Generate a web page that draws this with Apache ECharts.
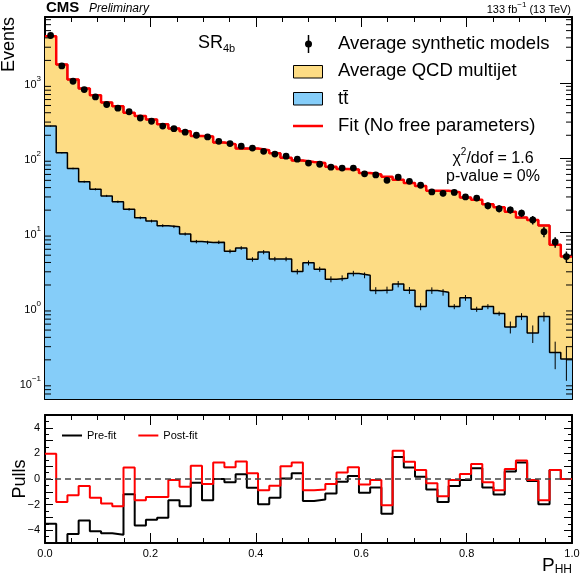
<!DOCTYPE html>
<html>
<head>
<meta charset="utf-8">
<script src="https://cdn.jsdelivr.net/npm/echarts@6/dist/echarts.min.js"></script>
<style>
html, body { margin: 0; padding: 0; background: #fff; }
#chart { width: 580px; height: 578px; }
</style>
</head>
<body>
<div id="chart"></div>
<script>
// 47 bins in P_HH from 0 to 1
var nBins = 47;

// stack top / fit prediction (events per bin)
var fitTotal = [4220, 1760, 1110, 841, 686, 548, 489, 400, 363, 325,
    281, 247, 227, 195, 193, 160, 152, 133, 133, 126,
    115, 100, 92, 88, 85, 76, 71, 70, 62.5, 60,
    56, 51, 46, 42, 36.3, 36.3, 34.7, 29.5, 27.5, 23.9,
    21.8, 19.1, 16.0, 14.8, 12.5, 6.9, 4.8];

var ttbar = [265, 117, 72, 48, 38, 31, 25.9, 20.5, 15.8, 14.3,
    12.4, 12.0, 9.6, 7.6, 7.4, 7.45, 5.65, 6.25, 4.4, 5.5,
    4.45, 4.45, 3.02, 3.95, 3.25, 2.39, 2.47, 2.85, 2.7, 1.69,
    1.72, 2.06, 1.7, 1.03, 1.69, 1.6, 1.03, 1.35, 0.95, 1.03,
    0.83, 0.55, 0.76, 0.456, 0.76, 0.25, 0.205];

var ttbarErr = [4, 2.5, 1.8, 1.4, 1.2, 1.0, 0.9, 0.8, 0.65, 0.6,
    0.55, 0.5, 0.45, 0.4, 0.4, 0.4, 0.35, 0.35, 0.3, 0.35,
    0.3, 0.3, 0.25, 0.3, 0.25, 0.22, 0.22, 0.24, 0.24, 0.18,
    0.18, 0.2, 0.18, 0.11, 0.17, 0.16, 0.08, 0.12, 0.075, 0.08,
    0.055, 0.10, 0.08, 0.12, 0.11, 0.10, 0.10];

var synthData = [4300, 1690, 1054, 815, 651, 515, 460, 412, 340, 308,
    265, 245, 220, 200, 190, 166, 155, 143, 135, 122,
    112, 105, 96, 85, 82, 75, 73, 73, 61, 59,
    50, 55, 48.5, 43, 35, 33.5, 34.5, 30, 29, 22.9,
    20.9, 20.1, 18.2, 14.8, 10.3, 7.5, 4.8];

var synthErr = [60, 30, 22, 17, 15, 13, 12, 11, 10, 9,
    8.5, 8, 7.5, 7, 7, 6.5, 6.3, 6, 5.8, 5.6,
    5.3, 5, 4.8, 4.6, 4.5, 4.3, 4.2, 4.2, 3.9, 3.8,
    3.6, 3.7, 3.4, 3.2, 3, 2.9, 2.9, 2.7, 2.6, 2.4,
    2.3, 2.2, 2.1, 1.9, 1.6, 1.2, 0.8];

var pullPre = [-3.5, -6, -4.3, -3.24, -4.08, -4.24, -4.35, -1.19, -3.64, -3.19,
    -3.03, -1.66, -2.13, -0.29, -1.66, 0, -0.26, 0.37, -0.68, -1.97,
    -1.47, 0.03, 0.45, -1.71, -1.6, -1.13, -0.21, 0.24, -1.08, -0.66,
    -2.71, 1.71, 0.89, 0.18, -0.82, -1.79, -0.55, -0.08, 0.84, -0.66,
    -1.21, 0.58, 1.29, -0.16, -1.97, 0.71, 0];

var pullPost = [1.97, -1.79, -1.26, -0.55, -1.47, -1.92, -2.13, 0.9, -1.66, -1.4,
    -1.4, -0.08, -0.6, 1.03, -0.4, 1.29, 0.92, 1.37, 0.45, -0.87,
    -0.53, 1.0, 1.29, -0.87, -0.82, -0.39, 0.5, 0.92, -0.42, -0.08,
    -2.05, 2.21, 1.34, 0.71, -0.34, -1.34, -0.08, 0.39, 1.18, -0.26,
    -0.87, 0.79, 1.45, -0.08, -1.66, 0.71, 0];

var xTickLabels = ['0.0', '0.2', '0.4', '0.6', '0.8', '1.0'];

// ROOT style minor ticks on the log axis: 2..9 x 10^n
var logMinorMults = [2, 3, 4, 5, 6, 7, 8, 9];
var logDecades = [-2, -1, 0, 1, 2, 3];

var FONT = '"Liberation Sans", Arial, sans-serif';
var YELLOW = '#fddc84';
var BLUE = '#85cdf9';
var Y_MIN = 0.06, Y_MAX = 7600;

// histogram as a step line: point at each left bin edge plus closing point at x=1
function stepData(vals) {
    var out = [];
    for (var i = 0; i < vals.length; i++) {
        out.push([i / nBins, vals[i]]);
    }
    out.push([1, vals[vals.length - 1]]);
    return out;
}

function powLabel(v) {
    var e = Math.log10(v), r = Math.round(e);
    if (Math.abs(e - r) > 1e-6) return '';
    return '{b|10}{s|' + (r < 0 ? '\u2212' + (-r) : r) + '}';
}

function errBars(vals, errs, withDot) {
    var d = [];
    for (var i = 0; i < vals.length; i++) {
        d.push([(i + 0.5) / nBins, vals[i], errs[i]]);
    }
    return {
        data: d,
        renderItem: function (params, api) {
            var x = api.value(0), y = api.value(1), e = api.value(2);
            var p = api.coord([x, y]);
            var hi = api.coord([x, y + e]);
            var lo = api.coord([x, y - e]);
            var kids = [{
                type: 'line',
                shape: { x1: p[0], y1: hi[1], x2: p[0], y2: lo[1] },
                style: { stroke: '#000', lineWidth: withDot ? 1.5 : 1 }
            }];
            if (withDot) {
                kids.push({ type: 'circle', shape: { cx: p[0], cy: p[1], r: 3.4 }, style: { fill: '#000' } });
            }
            return { type: 'group', children: kids };
        }
    };
}

var minorTickData = [];
logDecades.forEach(function (d) {
    logMinorMults.forEach(function (m) {
        var v = m * Math.pow(10, d);
        if (v > Y_MIN && v < Y_MAX) minorTickData.push([0, v]);
    });
});

var myChart = echarts.init(document.getElementById('chart'), null, { renderer: 'canvas' });

var frameLine = { show: true, onZero: false, lineStyle: { color: '#000', width: 2 } };

function xAxisCfg(grid, pos, labels) {
    return {
        type: 'value', gridIndex: grid, position: pos, min: 0, max: 1, interval: 0.2,
        axisLine: frameLine,
        axisTick: { show: true, inside: true, length: 10, lineStyle: { color: '#000', width: 1 } },
        minorTick: { show: true, splitNumber: 4, length: 5, lineStyle: { color: '#000', width: 1 } },
        splitLine: { show: false },
        axisLabel: labels ? {
            show: true, margin: 5, color: '#000', fontSize: 11, fontFamily: FONT,
            formatter: function (v) { return xTickLabels[Math.round(v / 0.2)]; }
        } : { show: false }
    };
}

function logAxisCfg(pos, labels) {
    return {
        type: 'log', logBase: 10, gridIndex: 0, position: pos, min: Y_MIN, max: Y_MAX,
        axisLine: frameLine,
        axisTick: { show: true, inside: true, length: 12, lineStyle: { color: '#000', width: 1 } },
        minorTick: { show: false },
        splitLine: { show: false },
        axisLabel: labels ? {
            show: true, margin: 4, color: '#000', fontFamily: FONT, formatter: powLabel,
            rich: {
                b: { fontSize: 11, fontFamily: FONT, color: '#000', lineHeight: 16, verticalAlign: 'bottom' },
                s: { fontSize: 8, fontFamily: FONT, color: '#000', lineHeight: 16, verticalAlign: 'top' }
            }
        } : { show: false }
    };
}

function pullAxisCfg(pos, labels) {
    return {
        type: 'value', gridIndex: 1, position: pos, min: -5, max: 5, interval: 1,
        axisLine: frameLine,
        axisTick: { show: true, inside: true, length: 8, lineStyle: { color: '#000', width: 1 } },
        minorTick: { show: true, splitNumber: 2, length: 4, lineStyle: { color: '#000', width: 1 } },
        splitLine: { show: false },
        axisLabel: labels ? {
            show: true, margin: 5, color: '#000', fontSize: 11, fontFamily: FONT,
            formatter: function (v) {
                if (v % 2 !== 0) return '';
                return v < 0 ? '\u2212' + (-v) : String(v);
            }
        } : { show: false }
    };
}

var dataBars = errBars(synthData, synthErr, true);
var ttBars = errBars(ttbar, ttbarErr, false);

var option = {
    animation: false,
    backgroundColor: '#fff',
    textStyle: { fontFamily: FONT },
    grid: [
        { left: 45, right: 8, top: 17, height: 382, outerBoundsMode: 'none' },
        { left: 45, right: 8, top: 415, height: 128, outerBoundsMode: 'none' }
    ],
    xAxis: [
        xAxisCfg(0, 'bottom', false),
        xAxisCfg(0, 'top', false),
        xAxisCfg(1, 'bottom', true),
        xAxisCfg(1, 'top', false)
    ],
    yAxis: [
        logAxisCfg('left', true),
        logAxisCfg('right', false),
        pullAxisCfg('left', true),
        pullAxisCfg('right', false)
    ],
    legend: {
        data: ['Pre-fit', 'Post-fit'],
        left: 57, top: 425, orient: 'horizontal',
        itemWidth: 20, itemHeight: 2, itemGap: 22, icon: 'rect',
        textStyle: { fontSize: 11, fontFamily: FONT, color: '#000' }
    },
    series: [
        {
            name: 'Average QCD multijet', type: 'line', step: 'end', xAxisIndex: 0, yAxisIndex: 0,
            data: stepData(fitTotal), symbol: 'none', z: 1,
            lineStyle: { color: '#000', width: 1.5 },
            areaStyle: { color: YELLOW, opacity: 1, origin: 'start' }
        },
        {
            name: 't\u0074\u0304', type: 'line', step: 'end', xAxisIndex: 0, yAxisIndex: 0,
            data: stepData(ttbar), symbol: 'none', z: 2,
            lineStyle: { color: '#000', width: 1.5 },
            areaStyle: { color: BLUE, opacity: 1, origin: 'start' }
        },
        {
            name: 'ttbar errors', type: 'custom', xAxisIndex: 0, yAxisIndex: 0, z: 3, clip: true,
            data: ttBars.data, renderItem: ttBars.renderItem
        },
        {
            name: 'Fit (No free parameters)', type: 'line', step: 'end', xAxisIndex: 0, yAxisIndex: 0,
            data: stepData(fitTotal), symbol: 'none', z: 4,
            lineStyle: { color: '#ff0000', width: 2.5 }
        },
        {
            name: 'Average synthetic models', type: 'custom', xAxisIndex: 0, yAxisIndex: 0, z: 5, clip: true,
            data: dataBars.data, renderItem: dataBars.renderItem
        },
        {
            // minor ticks of the log axis, on both frame sides
            name: 'log minor ticks', type: 'custom', xAxisIndex: 0, yAxisIndex: 0, z: 10, silent: true,
            data: minorTickData,
            renderItem: function (params, api) {
                var l = api.coord([0, api.value(1)]);
                var r = api.coord([1, api.value(1)]);
                return {
                    type: 'group', children: [
                        { type: 'line', shape: { x1: l[0], y1: l[1], x2: l[0] + 6, y2: l[1] }, style: { stroke: '#000', lineWidth: 1 } },
                        { type: 'line', shape: { x1: r[0] - 6, y1: r[1], x2: r[0], y2: r[1] }, style: { stroke: '#000', lineWidth: 1 } }
                    ]
                };
            }
        },
        {
            name: 'Pre-fit', type: 'line', step: 'end', xAxisIndex: 2, yAxisIndex: 2,
            data: stepData(pullPre), symbol: 'none', clip: true, z: 2,
            color: '#000',
            lineStyle: { color: '#000', width: 2 },
            markLine: {
                silent: true, symbol: 'none', label: { show: false },
                lineStyle: { color: '#444', width: 1.5, type: [6, 4] },
                data: [{ yAxis: 0 }]
            }
        },
        {
            name: 'Post-fit', type: 'line', step: 'end', xAxisIndex: 2, yAxisIndex: 2,
            data: stepData(pullPost), symbol: 'none', clip: true, z: 3,
            color: '#ff0000',
            lineStyle: { color: '#ff0000', width: 2 }
        }
    ],
    graphic: [
        // header
        { type: 'text', x: 46, y: 15, style: { text: 'CMS', font: 'bold 15px ' + FONT, fill: '#000', verticalAlign: 'bottom' } },
        { type: 'text', x: 89, y: 15, style: { text: 'Preliminary', font: 'italic 12px ' + FONT, fill: '#000', verticalAlign: 'bottom' } },
        {
            type: 'text', x: 571, y: 15,
            style: {
                text: '{a|133 fb}{s|\u22121}{a| (13 TeV)}', align: 'right', verticalAlign: 'bottom',
                rich: {
                    a: { fontSize: 11, fontFamily: FONT, fill: '#000', lineHeight: 14, verticalAlign: 'bottom' },
                    s: { fontSize: 8, fontFamily: FONT, fill: '#000', lineHeight: 14, verticalAlign: 'top' }
                }
            }
        },
        // axis titles
        { type: 'text', x: 9, y: 17, rotation: Math.PI / 2, style: { text: 'Events', font: '18px ' + FONT, fill: '#000', align: 'right', verticalAlign: 'middle' } },
        { type: 'text', x: 20, y: 479, rotation: Math.PI / 2, style: { text: 'Pulls', font: '18px ' + FONT, fill: '#000', align: 'center', verticalAlign: 'middle' } },
        {
            type: 'text', x: 572, y: 576,
            style: {
                text: '{p|P}{s|HH}', align: 'right', verticalAlign: 'bottom',
                rich: {
                    p: { fontSize: 19, fontFamily: FONT, fill: '#000', lineHeight: 20, verticalAlign: 'top' },
                    s: { fontSize: 12, fontFamily: FONT, fill: '#000', lineHeight: 20, verticalAlign: 'bottom' }
                }
            }
        },
        // region label and fit quality
        {
            type: 'text', x: 198, y: 44,
            style: {
                text: '{a|SR}{s|4b}', verticalAlign: 'middle',
                rich: {
                    a: { fontSize: 18, fontFamily: FONT, fill: '#000', lineHeight: 20, verticalAlign: 'top' },
                    s: { fontSize: 11, fontFamily: FONT, fill: '#000', lineHeight: 20, verticalAlign: 'bottom' }
                }
            }
        },
        {
            type: 'text', x: 493, y: 157,
            style: {
                text: '{a|\u03c7}{s|2}{a|/dof = 1.6}', align: 'center', verticalAlign: 'middle',
                rich: {
                    a: { fontSize: 16, fontFamily: FONT, fill: '#000', lineHeight: 20, verticalAlign: 'bottom' },
                    s: { fontSize: 10, fontFamily: FONT, fill: '#000', lineHeight: 20, verticalAlign: 'top' }
                }
            }
        },
        { type: 'text', x: 493, y: 177, style: { text: 'p-value = 0%', font: '16px ' + FONT, fill: '#000', align: 'center', verticalAlign: 'middle' } },
        // top legend
        { type: 'line', shape: { x1: 308.5, y1: 35, x2: 308.5, y2: 53 }, style: { stroke: '#000', lineWidth: 1.5 } },
        { type: 'circle', shape: { cx: 308.5, cy: 44, r: 3.5 }, style: { fill: '#000' } },
        { type: 'rect', shape: { x: 293.5, y: 65.5, width: 29, height: 12.5 }, style: { fill: YELLOW, stroke: '#000', lineWidth: 1 } },
        { type: 'rect', shape: { x: 293.5, y: 92.5, width: 29, height: 12.5 }, style: { fill: BLUE, stroke: '#000', lineWidth: 1 } },
        { type: 'line', shape: { x1: 293, y1: 126, x2: 323, y2: 126 }, style: { stroke: '#ff0000', lineWidth: 2.5 } },
        { type: 'text', x: 338, y: 44, style: { text: 'Average synthetic models', font: '18.5px ' + FONT, fill: '#000', verticalAlign: 'middle' } },
        { type: 'text', x: 338, y: 71, style: { text: 'Average QCD multijet', font: '18.5px ' + FONT, fill: '#000', verticalAlign: 'middle' } },
        { type: 'text', x: 338, y: 99, style: { text: 't\u0074\u0304', font: '18.5px ' + FONT, fill: '#000', verticalAlign: 'middle' } },
        { type: 'text', x: 338, y: 126, style: { text: 'Fit (No free parameters)', font: '18.5px ' + FONT, fill: '#000', verticalAlign: 'middle' } }
    ]
};

myChart.setOption(option);
</script>
</body>
</html>
